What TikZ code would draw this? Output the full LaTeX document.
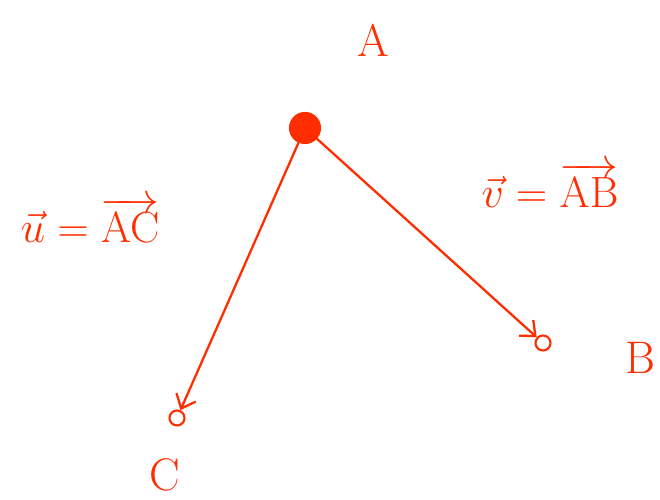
\documentclass[tikz,border=0pt]{standalone}
\usepackage{amsmath}
\definecolor{inkred}{RGB}{255,45,0}
\usetikzlibrary{arrows.meta}
\begin{document}
\begin{tikzpicture}[every node/.style={text=inkred, font=\fontsize{26}{28}\selectfont},
  pt/.style={circle, draw=inkred, line width=1.2pt, inner sep=0pt},
  vec/.style={-{Straight Barb[length=7pt, width=12pt]}, inkred, line width=1.3pt}]
\useasboundingbox (0,0) rectangle (13.2,10);
% Points
\node[pt, fill=inkred, minimum size=0.6cm] (a) at (6.1,7.44) {};
\node[pt, minimum size=0.3cm] (b) at (10.86,3.14) {};
\node[pt, minimum size=0.3cm] (c) at (3.54,1.64) {};
% Labels
\node (la) at (7.46,9.2) {A};
\node (lb) at (12.8,2.85) {B};
\node (lc) at (3.3,0.5) {C};
% Vectors
\draw[vec] (a) -- (b);
\draw[vec] (a) -- (c);
% Equations
\node (eu) at (1.8,5.6) {$\vec{u}=\overrightarrow{\mathrm{AC}}$};
\node (ev) at (11.0,6.3) {$\vec{v}=\overrightarrow{\mathrm{AB}}$};
\end{tikzpicture}
\end{document}
